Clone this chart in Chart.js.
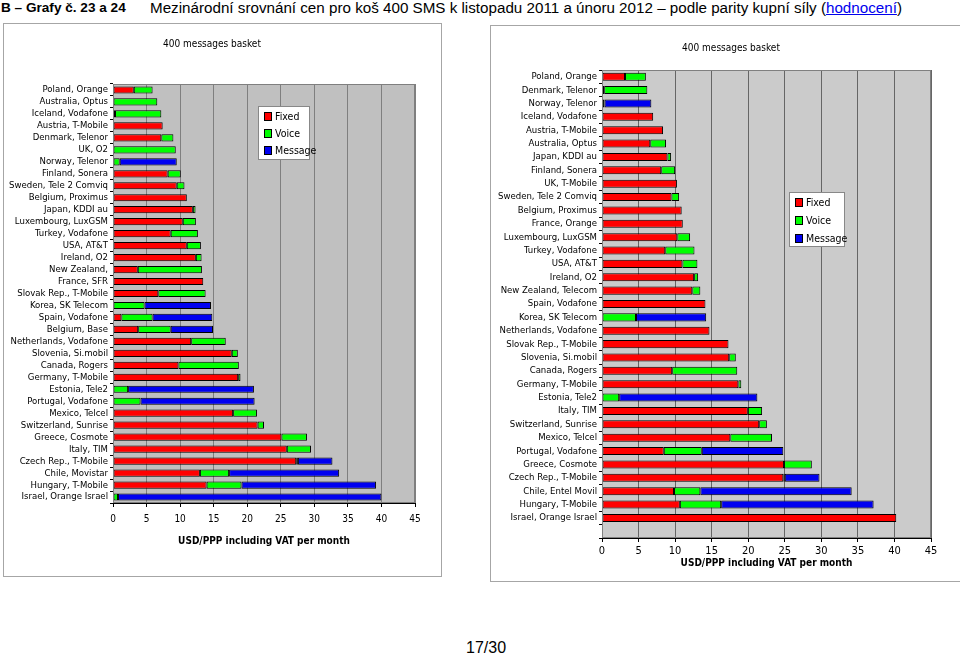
<!DOCTYPE html>
<html>
<head>
<meta charset="utf-8">
<script src="https://cdn.jsdelivr.net/npm/chart.js@4.4.1/dist/chart.umd.min.js"></script>
<style>
  body { margin: 0; width: 960px; height: 655px; background: #fff; position: relative; overflow: hidden;
         font-family: 'Liberation Sans', Arial, sans-serif; }
  .abs { position: absolute; }
  .head { top: 0; white-space: nowrap; color: #000; }
  .head a { color: #0000ee; text-decoration: underline; }
  .box { border: 1px solid #a6a6a6; box-sizing: border-box; }
  .ctitle { font-family: 'Liberation Sans Narrow', 'DejaVu Sans Condensed', sans-serif; font-size: 10px; transform: translateX(-50%); white-space: nowrap; }
  .legend { background: #fff; border: 1px solid #888; box-sizing: border-box;
            font-family: 'Liberation Sans Narrow', 'DejaVu Sans Condensed', sans-serif; font-size: 10.5px; }
  .legend div { position: absolute; left: 5px; white-space: nowrap; }
  .legend span { display: inline-block; width: 6px; height: 7px; border: 1px solid #000; margin-right: 3px; vertical-align: -1px; }
</style>
</head>
<body>
<div class="abs head" style="left:1px; font-size:13.6px; font-weight:bold;">B – Grafy č. 23 a 24</div>
<div class="abs head" style="left:150px; font-size:15.2px; top:-1px;">Mezinárodní srovnání cen pro koš 400 SMS k listopadu 2011 a únoru 2012 – podle parity kupní síly (<a>hodnocení</a>)</div>

<div class="abs box" style="left:3px; top:23px; width:439px; height:554px;"></div>
<div class="abs box" style="left:490px; top:25px; width:480px; height:557px;"></div>

<canvas id="leftChart" class="abs" width="439" height="554" style="left:3px; top:23px;"></canvas>
<canvas id="rightChart" class="abs" width="470" height="556" style="left:490px; top:25px;"></canvas>

<div class="abs ctitle" style="left:212px; top:38px;">400 messages basket</div>
<div class="abs ctitle" style="left:731px; top:42px;">400 messages basket</div>

<div class="abs legend" style="left:258px; top:106px; width:52px; height:54px;">
  <div style="top:3px;"><span style="background:#ff0000"></span>Fixed</div>
  <div style="top:20px;"><span style="background:#00ff00"></span>Voice</div>
  <div style="top:37px;"><span style="background:#0000f0"></span>Message</div>
</div>
<div class="abs legend" style="left:789px; top:192px; width:56px; height:55px;">
  <div style="top:3px;"><span style="background:#ff0000"></span>Fixed</div>
  <div style="top:21px;"><span style="background:#00ff00"></span>Voice</div>
  <div style="top:39px;"><span style="background:#0000f0"></span>Message</div>
</div>

<div class="abs" style="left:466px; top:639px; font-size:16px;">17/30</div>

<script>
// listopad 2011 (levý graf)
const leftCategories = ['Poland, Orange', 'Australia, Optus', 'Iceland, Vodafone', 'Austria, T-Mobile', 'Denmark, Telenor',
  'UK, O2', 'Norway, Telenor', 'Finland, Sonera', 'Sweden, Tele 2 Comviq', 'Belgium, Proximus', 'Japan, KDDI au',
  'Luxembourg, LuxGSM', 'Turkey, Vodafone', 'USA, AT&T', 'Ireland, O2', 'New Zealand,', 'France, SFR',
  'Slovak Rep., T-Mobile', 'Korea, SK Telecom', 'Spain, Vodafone', 'Belgium, Base', 'Netherlands, Vodafone',
  'Slovenia, Si.mobil', 'Canada, Rogers', 'Germany, T-Mobile', 'Estonia, Tele2', 'Portugal, Vodafone',
  'Mexico, Telcel', 'Switzerland, Sunrise', 'Greece, Cosmote', 'Italy, TIM', 'Czech Rep., T-Mobile',
  'Chile, Movistar', 'Hungary, T-Mobile', 'Israel, Orange Israel'];
const leftFixed = [3.1, null, 0.3, 7.4, 7.2, null, null, 8.15, 9.5, 11.0, 11.9, 10.4, 8.6, 11.0, 12.35, 3.7, 13.45,
  6.75, null, 1.25, 3.75, 11.65, 17.7, 9.75, 18.65, null, null, 17.9, 21.55, 25.1, 25.9, 27.3, 12.95, 13.95, null];
const leftVoice = [2.8, 6.6, 6.9, null, 1.8, 9.35, 1.0, 1.95, 1.15, null, 0.4, 1.95, 4.05, 2.1, 0.85, 9.55, null,
  7.05, 4.7, 4.65, 4.85, 5.15, 0.9, 9.0, 0.35, 2.25, 4.1, 3.55, 0.95, 3.8, 3.6, 0.25, 4.35, 5.2, 0.75];
const leftMessage = [null, null, null, null, null, null, 8.5, null, null, null, null, null, null, null, null, null, null,
  null, 9.9, 8.9, 6.3, null, null, null, null, 18.75, 17.0, null, null, null, null, 5.15, 16.4, 20.05, 39.25];

// únor 2012 (pravý graf), poslední řádek je prázdný
const rightCategories = ['Poland, Orange', 'Denmark, Telenor', 'Norway, Telenor', 'Iceland, Vodafone', 'Austria, T-Mobile',
  'Australia, Optus', 'Japan, KDDI au', 'Finland, Sonera', 'UK, T-Mobile', 'Sweden, Tele 2 Comviq', 'Belgium, Proximus',
  'France, Orange', 'Luxembourg, LuxGSM', 'Turkey, Vodafone', 'USA, AT&T', 'Ireland, O2', 'New Zealand, Telecom',
  'Spain, Vodafone', 'Korea, SK Telecom', 'Netherlands, Vodafone', 'Slovak Rep., T-Mobile', 'Slovenia, Si.mobil',
  'Canada, Rogers', 'Germany, T-Mobile', 'Estonia, Tele2', 'Italy, TIM', 'Switzerland, Sunrise', 'Mexico, Telcel',
  'Portugal, Vodafone', 'Greece, Cosmote', 'Czech Rep., T-Mobile', 'Chile, Entel Movil', 'Hungary, T-Mobile',
  'Israel, Orange Israel', ''];
const rightFixed = [3.15, 0.3, null, 7.0, 8.35, 6.6, 8.95, 8.1, 10.25, 9.5, 10.9, 11.05, 10.3, 8.65, 11.0, 12.6, 12.35,
  14.15, null, 14.7, 17.3, 17.4, 9.6, 18.65, null, 19.95, 21.5, 17.55, 8.45, 24.9, 24.8, 9.85, 10.65, 40.25, null];
const rightVoice = [2.85, 5.9, 0.35, null, null, 2.15, 0.5, 1.9, null, 1.05, null, null, 1.75, 4.0, 2.05, 0.55, 1.1,
  null, 4.65, null, null, 0.9, 8.9, 0.4, 2.35, 1.95, 1.05, 5.7, 5.2, 3.8, 0.2, 3.6, 5.65, null, null];
const rightMessage = [null, null, 6.4, null, null, null, null, null, null, null, null, null, null, null, null, null, null,
  null, 9.6, null, null, null, null, null, 18.9, null, null, null, 11.15, null, 4.75, 20.7, 20.85, null, null];

const seriesNames = ['Fixed', 'Voice', 'Message'];
const seriesColors = ['#ff0000', '#00ff00', '#0000f0'];
const xTicks = [0, 5, 10, 15, 20, 25, 30, 35, 40, 45];
const axisTitle = 'USD/PPP including VAT per month';

const narrow = "'Liberation Sans Narrow', 'DejaVu Sans Condensed', sans-serif";

// šedé pozadí plochy grafu
const plotBg = {
  id: 'plotBg',
  beforeDraw(chart, args, opts) {
    const { ctx, chartArea: a } = chart;
    ctx.save();
    ctx.fillStyle = opts.color;
    ctx.fillRect(a.left, a.top, a.width, a.height);
    ctx.restore();
  },
  afterDraw(chart, args, opts) {
    const { ctx, chartArea: a } = chart;
    ctx.save();
    ctx.strokeStyle = opts.border;
    ctx.lineWidth = 1;
    ctx.strokeRect(a.left + 0.5, a.top + 0.5, a.width - 1, a.height - 1);
    ctx.restore();
  }
};

function makeChart(id, labels, fixed, voice, message, s) {
  const values = [fixed, voice, message];
  new Chart(document.getElementById(id).getContext('2d'), {
    type: 'bar',
    data: {
      labels: labels,
      datasets: seriesNames.map((name, i) => ({
        label: name,
        data: values[i],
        backgroundColor: seriesColors[i],
        borderColor: '#000',
        borderWidth: 1,
        borderSkipped: false,
        barPercentage: 0.6,
        categoryPercentage: 1
      }))
    },
    plugins: [plotBg],
    options: {
      indexAxis: 'y',
      responsive: false,
      animation: false,
      layout: { padding: s.padding },
      scales: {
        x: {
          stacked: true,
          min: 0,
          max: 45,
          afterBuildTicks: (scale) => { scale.ticks = xTicks.map(v => ({ value: v })); },
          afterFit: (scale) => { scale.height = s.xHeight; },
          grid: { color: s.gridColor, tickLength: 4, tickColor: '#000' },
          border: { color: '#000' },
          ticks: { color: '#000', padding: s.xTickPad, font: { family: narrow, size: s.xTickSize } },
          title: {
            display: true,
            text: axisTitle,
            color: '#000',
            padding: 0,
            font: { family: narrow, size: 10, weight: 'bold' }
          }
        },
        y: {
          stacked: true,
          afterFit: (scale) => { scale.width = s.yWidth; },
          grid: { drawOnChartArea: false, tickLength: 3, color: '#000' },
          border: { color: '#000' },
          ticks: { color: '#000', padding: 2, autoSkip: false, font: { family: narrow, size: s.yTickSize } }
        }
      },
      plugins: {
        legend: { display: false },
        title: { display: false },
        tooltip: { enabled: false },
        plotBg: { color: s.bg, border: s.plotBorder }
      }
    }
  });
}

makeChart('leftChart', leftCategories, leftFixed, leftVoice, leftMessage, {
  padding: { left: 0, right: 27, top: 61, bottom: 30 },
  xHeight: 44, yWidth: 110, xTickPad: 6, xTickSize: 10, yTickSize: 9.5,
  gridColor: '#7f7f7f', bg: '#c0c0c0', plotBorder: '#7f7f7f'
});

makeChart('rightChart', rightCategories, rightFixed, rightVoice, rightMessage, {
  padding: { left: 0, right: 29, top: 45, bottom: 12 },
  xHeight: 31, yWidth: 112, xTickPad: 3, xTickSize: 11, yTickSize: 9.5,
  gridColor: '#666666', bg: '#cbcbcb', plotBorder: '#808080'
});
</script>
</body>
</html>
